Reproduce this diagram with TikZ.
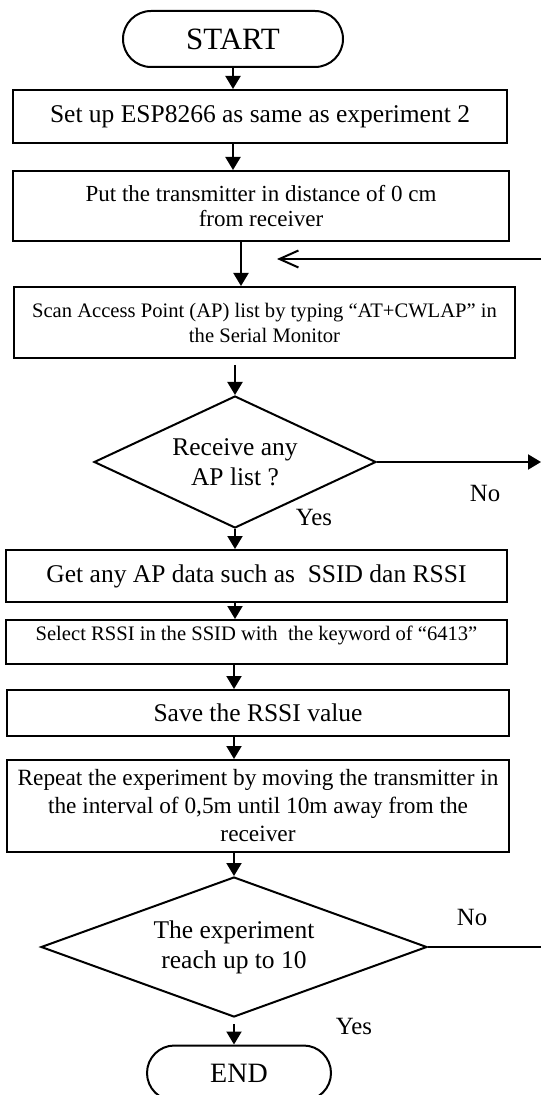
\documentclass[tikz,border=0pt]{standalone}
\usepackage{fontspec}
\setmainfont{Liberation Serif}
\usetikzlibrary{positioning, calc, shapes.geometric, shapes.misc, arrows.meta}

\begin{document}
\begin{tikzpicture}[x=0.5pt, y=-0.5pt, line width=1pt, >={Triangle[length=6.5pt, width=7.5pt]}]
    % Define block styles
    \tikzstyle{block} = [rectangle, draw, align=center, inner sep=2pt]
    \tikzstyle{terminal} = [rounded rectangle, draw, inner sep=2pt]
    \tikzstyle{decision} = [diamond, draw, align=center, inner sep=0pt]
    \tikzstyle{big} = [font=\fontsize{12.75}{15}\selectfont]
    \tikzstyle{small} = [font=\fontsize{10.3}{12.5}\selectfont]
    \tikzstyle{answer} = [font=\fontsize{12.4}{15}\selectfont]

    \useasboundingbox (0,0) rectangle (541,1095);

    % Place nodes
    \node [terminal, font=\fontsize{15.5}{18}\selectfont, minimum width=114pt, minimum height=28pt] (start) at (233,39) {START};
    \node [block, big, minimum width=247pt, minimum height=26.5pt] (setup) at (260,116.5) {Set up ESP8266 as same as experiment 2};
    \node [block, font=\fontsize{11.5}{12.5}\selectfont, minimum width=248pt, minimum height=35pt] (place) at (261,206) {Put the transmitter in distance of 0 cm\\from receiver};
    \node [block, small, minimum width=250.5pt, minimum height=35.5pt] (scan) at (264.5,322.5) {Scan Access Point (AP) list by typing ``AT+CWLAP'' in\\the Serial Monitor};
    \node [decision, big, aspect=2.14, minimum width=141pt, minimum height=66pt] (check) at (235,462) {Receive any\\AP list ?};
    \node [block, big, minimum width=250.5pt, minimum height=26pt] (getdata) at (256.5,576) {Get any AP data such as~~SSID dan RSSI};
    \node [block, small, text depth=9pt, minimum width=250.5pt, minimum height=22pt] (select) at (256.5,642) {Select RSSI in the SSID with~~the keyword of ``6413''};
    \node [block, big, minimum width=251pt, minimum height=23pt] (save) at (258,713) {Save the RSSI value};
    \node [block, font=\fontsize{11.65}{14}\selectfont, minimum width=251pt, minimum height=46pt] (repeat) at (258,806) {Repeat the experiment by moving the transmitter in\\the interval of 0,5m until 10m away from the\\receiver};
    \node [decision, big, aspect=2.76, minimum width=193pt, minimum height=70pt] (reach) at (234,947) {The experiment\\reach up to 10};
    \node [terminal, font=\fontsize{14}{16}\selectfont, minimum width=96pt, minimum height=27.5pt] (stop) at (239,1073) {END};

    % Free ends at the right border
    \coordinate (noend) at (541,462);
    \coordinate (loopend) at (541,947);
    \coordinate (loopin) at (541,259);
    \coordinate (looptip) at (277,259);

    % Draw connections as arrows
    \draw [->] (start) -- (start |- setup.north);
    \draw [->] (start |- setup.south) -- (start |- place.north);
    \draw [->] ([xshift=-10pt]place.south) -- ([xshift=-10pt]place.south |- scan.north);
    \draw [->, shorten <=3pt] (check.north |- scan.south) -- (check.north);
    \draw [->] (check) -- (check |- getdata.north);
    \draw [->] (check |- getdata.south) -- (check |- select.north);
    \draw [->] (reach |- select.south) -- (reach |- save.north);
    \draw [->] (reach |- save.south) -- (reach |- repeat.north);
    \draw [->] (reach.north |- repeat.south) -- (reach.north);
    \draw [->, shorten <=3pt] (reach) -- (reach |- stop.north);
    \draw [->] (check) -- (noend);
    \draw (reach) -- (loopend);
    \draw [-{Straight Barb[length=9.5pt, width=8.5pt]}] (loopin) -- (looptip);

    % Add text on the arrows
    \node [answer] (nofirst) at (485,494) {No};
    \node [answer] (yesfirst) at (314,518) {Yes};
    \node [answer] (nosecond) at (472,917) {No};
    \node [answer] (yessecond) at (354,1026) {Yes};
\end{tikzpicture}
\end{document}
